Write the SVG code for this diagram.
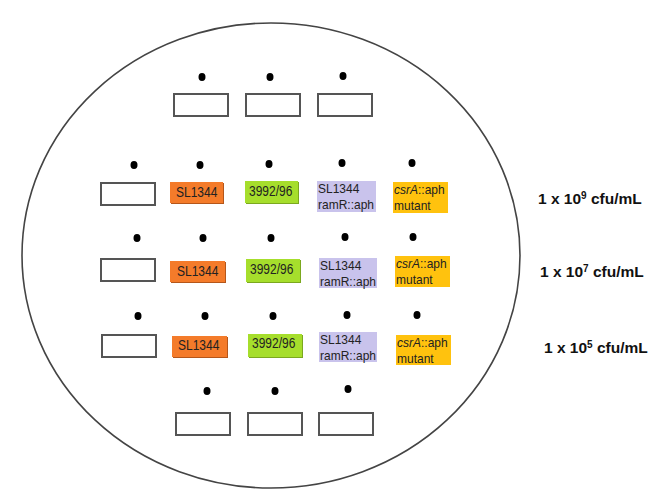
<svg xmlns="http://www.w3.org/2000/svg" width="670" height="489" viewBox="0 0 670 489">
<style>
.dot{fill:#000}
.empty{fill:#fff;stroke:#555;stroke-width:2}
.or{fill:#F47B2A}
.orsh{fill:#B5561A}
.gr{fill:#A6DE2C}
.grsh{fill:#7BA81F}
.lv{fill:#C9C3EC}
.ye{fill:#FFC20E}
.t{font-family:"Liberation Sans",Arial,sans-serif;font-size:12px;fill:#222}
.lab{font-family:"Liberation Sans",Arial,sans-serif;font-size:15.5px;font-weight:bold;fill:#111}
.sup{font-size:10px}
</style>
<rect width="670" height="489" fill="#fff"/>
<ellipse id="plate" cx="271" cy="255.5" rx="249" ry="232.5" fill="none" stroke="#444" stroke-width="1.6"/>

<g id="top-row">
<ellipse class="dot" cx="202" cy="77" rx="3.5" ry="4"/>
<ellipse class="dot" cx="270" cy="77" rx="3.5" ry="4"/>
<ellipse class="dot" cx="343" cy="76" rx="3.5" ry="4"/>
<rect class="empty" x="174" y="94" width="54" height="22"/>
<rect class="empty" x="246" y="94" width="54" height="22"/>
<rect class="empty" x="318" y="94" width="54" height="22"/>
</g>

<g id="row1">
<ellipse class="dot" cx="134" cy="165" rx="3.5" ry="4"/>
<ellipse class="dot" cx="200" cy="165" rx="3.5" ry="4"/>
<ellipse class="dot" cx="269" cy="164" rx="3.5" ry="4"/>
<ellipse class="dot" cx="342" cy="163" rx="3.5" ry="4"/>
<ellipse class="dot" cx="412" cy="163" rx="3.5" ry="4"/>
<rect class="empty" x="101" y="183" width="54" height="22"/>
<rect class="orsh" x="171" y="183" width="53" height="21"/>
<rect class="or" x="170" y="182" width="53" height="21"/>
<text class="t" transform="translate(176,196.5) scale(1,1.15)">SL1344</text>
<rect class="grsh" x="246" y="182" width="53" height="22"/>
<rect class="gr" x="245" y="181" width="53" height="22"/>
<text class="t" transform="translate(249,196) scale(1,1.15)">3992/96</text>
<rect class="lv" x="317" y="181" width="59" height="31"/>
<text class="t" transform="translate(318,193) scale(1,1.1)">SL1344</text>
<text class="t" transform="translate(318,209) scale(1,1.1)">ramR::aph</text>
<rect class="ye" x="393" y="182" width="55" height="31"/>
<text class="t" transform="translate(394,193.5) scale(1,1.1)"><tspan font-style="italic">csrA</tspan>::aph</text>
<text class="t" transform="translate(394,209.5) scale(1,1.1)">mutant</text>
</g>

<g id="row2">
<ellipse class="dot" cx="137" cy="238" rx="3.5" ry="4"/>
<ellipse class="dot" cx="203" cy="238" rx="3.5" ry="4"/>
<ellipse class="dot" cx="271" cy="238" rx="3.5" ry="4"/>
<ellipse class="dot" cx="345" cy="237" rx="3.5" ry="4"/>
<ellipse class="dot" cx="413" cy="237" rx="3.5" ry="4"/>
<rect class="empty" x="101" y="259" width="54" height="22"/>
<rect class="orsh" x="171" y="262" width="55" height="21"/>
<rect class="or" x="170" y="261" width="55" height="21"/>
<text class="t" transform="translate(177,275.5) scale(1,1.15)">SL1344</text>
<rect class="grsh" x="247" y="260" width="54" height="23"/>
<rect class="gr" x="246" y="259" width="54" height="23"/>
<text class="t" transform="translate(250,273.5) scale(1,1.15)">3992/96</text>
<rect class="lv" x="319" y="258" width="58" height="30"/>
<text class="t" transform="translate(320,270) scale(1,1.1)">SL1344</text>
<text class="t" transform="translate(320,286) scale(1,1.1)">ramR::aph</text>
<rect class="ye" x="395" y="256" width="55" height="31"/>
<text class="t" transform="translate(396,268) scale(1,1.1)"><tspan font-style="italic">csrA</tspan>::aph</text>
<text class="t" transform="translate(396,284) scale(1,1.1)">mutant</text>
</g>

<g id="row3">
<ellipse class="dot" cx="138" cy="316" rx="3.5" ry="4"/>
<ellipse class="dot" cx="205" cy="316" rx="3.5" ry="4"/>
<ellipse class="dot" cx="273" cy="316" rx="3.5" ry="4"/>
<ellipse class="dot" cx="347" cy="315" rx="3.5" ry="4"/>
<ellipse class="dot" cx="417" cy="315" rx="3.5" ry="4"/>
<rect class="empty" x="102" y="335" width="54" height="22"/>
<rect class="orsh" x="173" y="337" width="55" height="21"/>
<rect class="or" x="172" y="336" width="55" height="21"/>
<text class="t" transform="translate(178,349.5) scale(1,1.15)">SL1344</text>
<rect class="grsh" x="249" y="335" width="54" height="23"/>
<rect class="gr" x="248" y="334" width="54" height="23"/>
<text class="t" transform="translate(252,348) scale(1,1.15)">3992/96</text>
<rect class="lv" x="319" y="332" width="58" height="30"/>
<text class="t" transform="translate(320,344) scale(1,1.1)">SL1344</text>
<text class="t" transform="translate(320,360) scale(1,1.1)">ramR::aph</text>
<rect class="ye" x="396" y="335" width="55" height="30"/>
<text class="t" transform="translate(397,347) scale(1,1.1)"><tspan font-style="italic">csrA</tspan>::aph</text>
<text class="t" transform="translate(397,363) scale(1,1.1)">mutant</text>
</g>

<g id="bottom-row">
<ellipse class="dot" cx="207" cy="391" rx="3.5" ry="4"/>
<ellipse class="dot" cx="275" cy="391" rx="3.5" ry="4"/>
<ellipse class="dot" cx="348" cy="389" rx="3.5" ry="4"/>
<rect class="empty" x="176" y="413" width="54" height="22"/>
<rect class="empty" x="248" y="413" width="54" height="22"/>
<rect class="empty" x="319" y="413" width="54" height="22"/>
</g>

<g id="labels">
<text class="lab" x="538" y="204">1 x 10<tspan class="sup" dy="-5">9</tspan><tspan dy="5"> cfu/mL</tspan></text>
<text class="lab" x="540" y="277">1 x 10<tspan class="sup" dy="-5">7</tspan><tspan dy="5"> cfu/mL</tspan></text>
<text class="lab" x="544" y="353">1 x 10<tspan class="sup" dy="-5">5</tspan><tspan dy="5"> cfu/mL</tspan></text>
</g>
</svg>
